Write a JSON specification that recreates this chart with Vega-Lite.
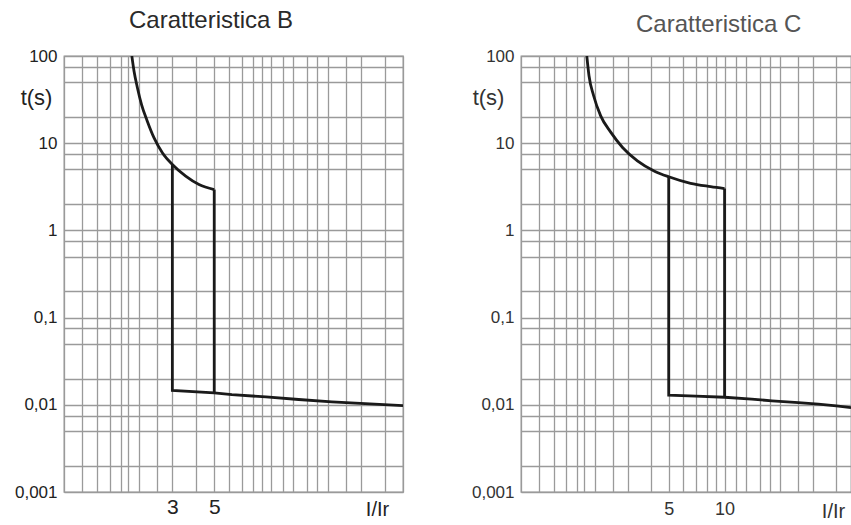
{
  "$schema": "https://vega.github.io/schema/vega-lite/v6.json",
  "background": "white",
  "padding": {"left": 13, "top": 8, "right": 0, "bottom": 0},
  "spacing": 66,
  "config": {
    "font": "Liberation Sans",
    "view": {"stroke": "#999", "strokeWidth": 1.3},
    "axis": {"grid": true, "gridColor": "#9a9a9a", "gridWidth": 1.3, "gridOpacity": 1, "ticks": false, "domain": false, "labelOverlap": false, "labelFlush": false, "labelBound": false, "labelColor": "#222", "titleColor": "#222", "titleFontWeight": "normal", "labelFont": "Liberation Sans", "titleFont": "Liberation Sans"},
    "title": {"font": "Liberation Sans", "fontWeight": "normal"}
  },
  "datasets": {
    "B": [
      {"seg": "curve", "o": 1, "x": 1.83, "t": 100},
      {"seg": "curve", "o": 2, "x": 1.88, "t": 66.8},
      {"seg": "curve", "o": 3, "x": 1.96, "t": 43},
      {"seg": "curve", "o": 4, "x": 2.06, "t": 27.7},
      {"seg": "curve", "o": 5, "x": 2.21, "t": 17.9},
      {"seg": "curve", "o": 6, "x": 2.4, "t": 11.5},
      {"seg": "curve", "o": 7, "x": 2.66, "t": 7.74},
      {"seg": "curve", "o": 8, "x": 3.0, "t": 5.7},
      {"seg": "curve", "o": 9, "x": 3.53, "t": 4.19},
      {"seg": "curve", "o": 10, "x": 4.15, "t": 3.36},
      {"seg": "curve", "o": 11, "x": 5.0, "t": 2.94},
      {"seg": "drop3", "o": 1, "x": 3, "t": 5.7},
      {"seg": "drop3", "o": 2, "x": 3, "t": 0.0146},
      {"seg": "drop3", "o": 3, "x": 5, "t": 0.0137},
      {"seg": "drop3", "o": 4, "x": 6.2, "t": 0.0131},
      {"seg": "drop3", "o": 5, "x": 9.4, "t": 0.0123},
      {"seg": "drop3", "o": 6, "x": 14, "t": 0.0115},
      {"seg": "drop3", "o": 7, "x": 21, "t": 0.0108},
      {"seg": "drop3", "o": 8, "x": 31.5, "t": 0.0103},
      {"seg": "drop3", "o": 9, "x": 50, "t": 0.0098},
      {"seg": "drop5", "o": 1, "x": 5, "t": 2.94},
      {"seg": "drop5", "o": 2, "x": 5, "t": 0.0137}
    ],
    "C": [
      {"seg": "curve", "o": 1, "x": 1.81, "t": 100},
      {"seg": "curve", "o": 2, "x": 1.86, "t": 59.4},
      {"seg": "curve", "o": 3, "x": 1.97, "t": 35},
      {"seg": "curve", "o": 4, "x": 2.15, "t": 20.6},
      {"seg": "curve", "o": 5, "x": 2.44, "t": 13.3},
      {"seg": "curve", "o": 6, "x": 2.82, "t": 8.93},
      {"seg": "curve", "o": 7, "x": 3.39, "t": 6.27},
      {"seg": "curve", "o": 8, "x": 4.17, "t": 4.81},
      {"seg": "curve", "o": 9, "x": 5.0, "t": 4.12},
      {"seg": "curve", "o": 10, "x": 6.56, "t": 3.47},
      {"seg": "curve", "o": 11, "x": 8.41, "t": 3.18},
      {"seg": "curve", "o": 12, "x": 10, "t": 3.02},
      {"seg": "drop5", "o": 1, "x": 5, "t": 4.12},
      {"seg": "drop5", "o": 2, "x": 5, "t": 0.0129},
      {"seg": "drop5", "o": 3, "x": 7, "t": 0.0126},
      {"seg": "drop5", "o": 4, "x": 10, "t": 0.0122},
      {"seg": "drop5", "o": 5, "x": 14, "t": 0.0116},
      {"seg": "drop5", "o": 6, "x": 18, "t": 0.0111},
      {"seg": "drop5", "o": 7, "x": 25, "t": 0.0106},
      {"seg": "drop5", "o": 8, "x": 32, "t": 0.0102},
      {"seg": "drop5", "o": 9, "x": 40, "t": 0.0097},
      {"seg": "drop5", "o": 10, "x": 48, "t": 0.0093},
      {"seg": "drop10", "o": 1, "x": 10, "t": 3.02},
      {"seg": "drop10", "o": 2, "x": 10, "t": 0.0122}
    ]
  },
  "hconcat": [
    {
      "width": 339,
      "height": 436,
      "title": {"text": "Caratteristica B", "fontSize": 24, "color": "#2a2a2a", "anchor": "start", "frame": "group", "dx": 65, "offset": 14},
      "data": {"name": "B"},
      "encoding": {
        "x": {"field": "x", "type": "quantitative",
          "scale": {"type": "log", "domain": [0.8, 50], "nice": false},
          "axis": {"values": [0.8, 1, 1.2, 1.4, 1.6, 1.75, 2, 2.5, 3, 4, 5, 6, 7, 8, 9, 10, 11.5, 13, 15.5, 17.5, 20, 25, 30, 40, 50],
            "labelExpr": "(datum.value == 3 || datum.value == 5) ? toString(datum.value) : ''",
            "labelFontSize": 21, "labelPadding": 4,
            "title": "I/Ir", "titleFontSize": 20, "titleX": 313, "titleY": 7, "titleAlign": "center", "titleBaseline": "top"}},
        "y": {"field": "t", "type": "quantitative",
          "scale": {"type": "log", "domain": [0.001, 100], "nice": false},
          "axis": {"values": [0.001, 0.002, 0.005, 0.0075, 0.01, 0.02, 0.05, 0.075, 0.1, 0.2, 0.5, 0.75, 1, 2, 5, 7.5, 10, 20, 50, 75, 100],
            "labelExpr": "indexof([0.001, 0.01, 0.1, 1, 10, 100], datum.value) >= 0 ? replace(toString(datum.value), '.', ',') : ''",
            "labelFontSize": 17, "labelPadding": 7,
            "title": "t(s)", "titleAngle": 0, "titleX": -28, "titleY": 41, "titleAlign": "center", "titleBaseline": "middle", "titleFontSize": 22}},
        "detail": {"field": "seg"},
        "order": {"field": "o", "type": "quantitative"}
      },
      "layer": [
        {"transform": [{"filter": "datum.seg == 'curve'"}], "mark": {"type": "line", "color": "#1a1a1a", "strokeWidth": 2.8, "clip": true, "interpolate": "monotone"}},
        {"transform": [{"filter": "datum.seg != 'curve'"}], "mark": {"type": "line", "color": "#1a1a1a", "strokeWidth": 2.8, "clip": true}}
      ]
    },
    {
      "width": 330,
      "height": 436,
      "title": {"text": "Caratteristica C", "fontSize": 24, "color": "#555", "anchor": "start", "frame": "group", "dx": 115, "offset": 10},
      "data": {"name": "C"},
      "encoding": {
        "x": {"field": "x", "type": "quantitative",
          "scale": {"type": "log", "domain": [0.8, 48], "nice": false},
          "axis": {"values": [0.8, 1, 1.2, 1.4, 1.6, 1.75, 2, 2.5, 3, 4, 5, 6, 7, 8, 9, 10, 11.5, 13, 15.5, 17.5, 20, 25, 30, 40],
            "labelExpr": "(datum.value == 5 || datum.value == 10) ? toString(datum.value) : ''",
            "labelFontSize": 18, "labelPadding": 8, "labelColor": "#333",
            "title": "I/Ir", "titleFontSize": 20, "titleColor": "#333", "titleX": 312, "titleY": 9, "titleAlign": "center", "titleBaseline": "top"}},
        "y": {"field": "t", "type": "quantitative",
          "scale": {"type": "log", "domain": [0.001, 100], "nice": false},
          "axis": {"values": [0.001, 0.002, 0.005, 0.0075, 0.01, 0.02, 0.05, 0.075, 0.1, 0.2, 0.5, 0.75, 1, 2, 5, 7.5, 10, 20, 50, 75, 100],
            "labelExpr": "indexof([0.001, 0.01, 0.1, 1, 10, 100], datum.value) >= 0 ? replace(toString(datum.value), '.', ',') : ''",
            "labelFontSize": 17, "labelPadding": 7, "labelColor": "#333",
            "title": "t(s)", "titleAngle": 0, "titleX": -33, "titleY": 41, "titleAlign": "center", "titleBaseline": "middle", "titleFontSize": 22, "titleColor": "#333"}},
        "detail": {"field": "seg"},
        "order": {"field": "o", "type": "quantitative"}
      },
      "layer": [
        {"transform": [{"filter": "datum.seg == 'curve'"}], "mark": {"type": "line", "color": "#1a1a1a", "strokeWidth": 2.8, "clip": true, "interpolate": "monotone"}},
        {"transform": [{"filter": "datum.seg != 'curve'"}], "mark": {"type": "line", "color": "#1a1a1a", "strokeWidth": 2.8, "clip": true}}
      ]
    }
  ]
}
